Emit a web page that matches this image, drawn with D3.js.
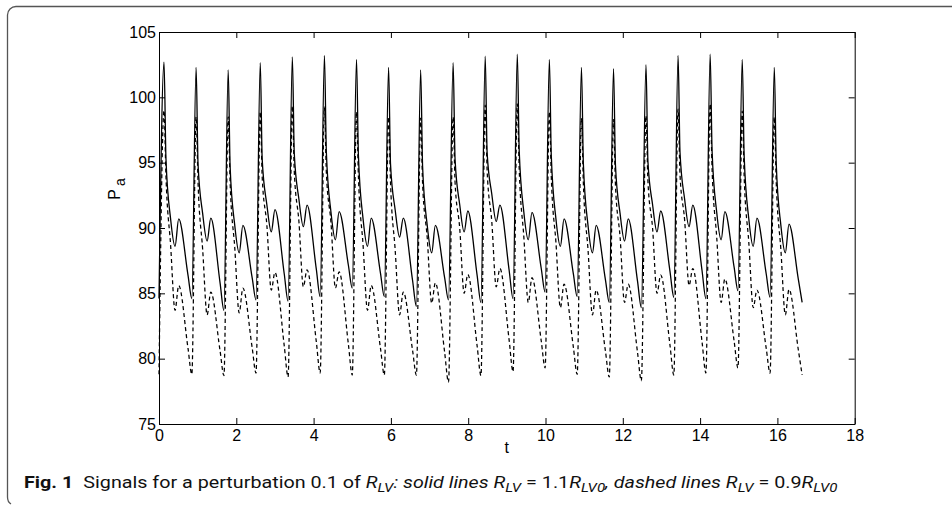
<!DOCTYPE html>
<html><head><meta charset="utf-8">
<script src="https://cdn.jsdelivr.net/npm/d3@7/dist/d3.min.js"></script>
<style>
body{margin:0;background:#fff;}
svg{display:block;}
</style>
</head><body>
<svg id="chart" width="952" height="508"></svg>
<script>
// ---------- data ----------
const xTicks = [0, 2, 4, 6, 8, 10, 12, 14, 16, 18];
const yTicks = [75, 80, 85, 90, 95, 100, 105];

// time (s) of each systolic peak
const peakT = [0.13, 0.96, 1.79, 2.62, 3.45, 4.28, 5.11, 5.94, 6.77, 7.61,
               8.44, 9.27, 10.10, 10.93, 11.76, 12.60, 13.43, 14.26, 15.09, 15.92];
// time offsets (s) after each peak of: peak, early drop, late drop, notch, bump, decline, trough
const phaseOffsets = [0, 0.05, 0.17, 0.285, 0.38, 0.62, 0.72];

// solid line: R_LV = 1.1 R_LV0
const solidStart   = 84.6;
const solidPeak    = [102.7, 102.3, 102.1, 102.65, 103.1, 103.2, 102.9, 102.3, 102.1, 102.65, 103.15, 103.3, 102.9, 102.3, 102.2, 102.5, 103.2, 103.3, 102.9, 102.3];
const solidDrop    = [95.3, 94.9, 94.7, 95.25, 95.7, 95.8, 95.5, 94.9, 94.7, 95.25, 95.75, 95.9, 95.5, 94.9, 94.8, 95.1, 95.8, 95.9, 95.5, 94.9];
const solidFall    = [90.7, 91.1, 90.2, 91.8, 92.2, 91.2, 90.7, 91.4, 90.2, 91.8, 92.6, 91.2, 90.7, 90.2, 91.1, 91.8, 92.2, 91.2, 90.7, 90.2];
const solidNotch   = [88.6, 89.0, 88.1, 89.7, 90.1, 89.1, 88.6, 89.3, 88.1, 89.7, 90.5, 89.1, 88.6, 88.1, 89.0, 89.7, 90.1, 89.1, 88.6, 88.1];
const solidBump    = [90.7, 90.75, 90.2, 91.4, 91.75, 91.25, 90.75, 90.75, 90.2, 91.3, 91.75, 91.2, 90.7, 90.2, 90.7, 91.3, 91.75, 91.25, 90.75, 90.3];
const solidDecline = [86.4, 85.8, 86.2, 86.5, 86.85, 87.15, 86.55, 86.0, 86.2, 86.4, 86.75, 86.9, 86.5, 86.05, 85.95, 86.7, 86.75, 87.0, 86.5, 86.1];
const solidTrough  = [84.6, 83.7, 84.5, 84.4, 84.75, 85.4, 84.75, 84.0, 84.5, 84.3, 84.6, 85.1, 84.75, 84.3, 83.9, 84.7, 84.6, 85.2, 84.7, 84.3];

// dashed line: R_LV = 0.9 R_LV0
const dashedStart   = 78.8;
const dashedPeak    = [99.0, 98.5, 98.5, 98.9, 99.35, 99.25, 98.9, 98.5, 98.4, 98.5, 99.4, 99.5, 98.9, 98.4, 98.3, 98.6, 99.1, 99.5, 98.95, 98.5];
const dashedDrop    = [94.0, 93.5, 93.5, 93.9, 94.35, 94.25, 93.9, 93.5, 93.4, 93.5, 94.4, 94.5, 93.9, 93.4, 93.3, 93.6, 94.1, 94.5, 93.95, 93.5];
const dashedFall    = [88.7, 88.35, 88.5, 90.25, 90.5, 90.4, 88.7, 88.35, 89.25, 90.0, 90.5, 89.3, 88.9, 88.35, 89.3, 90.0, 90.6, 89.3, 88.9, 88.35];
const dashedNotch   = [83.7, 83.35, 83.5, 85.25, 85.5, 85.4, 83.7, 83.35, 84.25, 85.0, 85.5, 84.3, 83.9, 83.35, 84.3, 85.0, 85.6, 84.3, 83.9, 83.35];
const dashedBump    = [85.6, 85.1, 85.4, 86.6, 86.8, 86.65, 85.6, 85.1, 85.8, 86.45, 86.9, 86.2, 85.7, 85.25, 85.7, 86.4, 86.9, 86.1, 85.25, 85.3];
const dashedDecline = [80.8, 80.6, 80.85, 81.0, 81.3, 81.1, 80.8, 80.65, 80.5, 81.0, 81.4, 81.35, 80.9, 80.6, 80.5, 81.05, 81.3, 81.35, 80.8, 80.7];
const dashedTrough  = [78.8, 78.7, 78.9, 78.6, 78.9, 78.75, 78.75, 78.75, 78.2, 78.7, 79.0, 79.3, 78.8, 78.6, 78.3, 78.75, 78.9, 79.3, 78.9, 78.75];

// ---------- build point tables ----------
function buildSeries(start, cols) {
  const pts = [[0, start]];
  peakT.forEach((tp, i) => {
    cols.forEach((col, j) => pts.push([tp + phaseOffsets[j], col[i]]));
  });
  return pts;
}
const solidPts = buildSeries(solidStart, [solidPeak, solidDrop, solidFall, solidNotch, solidBump, solidDecline, solidTrough]);
const dashedPts = buildSeries(dashedStart, [dashedPeak, dashedDrop, dashedFall, dashedNotch, dashedBump, dashedDecline, dashedTrough]);

// ---------- drawing ----------
const svg = d3.select("#chart");
const L = 159, R = 854.7, T = 32, B = 424;
const x = d3.scaleLinear().domain([0, 18]).range([L, R]);
const y = d3.scaleLinear().domain([75, 105]).range([B, T]);
const tickFont = "'Liberation Sans', Arial, Helvetica, sans-serif";

// frame around figure
svg.append("path")
  .attr("d", "M952,6.5 H16 A8.5,8.5 0 0 0 7.5,15 V497 Q7.5,502 11,504")
  .attr("fill", "none").attr("stroke", "#555").attr("stroke-width", 1.3);

const line = d3.line().x(d => x(d[0])).y(d => y(d[1])).curve(d3.curveMonotoneX);

svg.append("path").datum(dashedPts)
  .attr("d", line).attr("fill", "none").attr("stroke", "#000")
  .attr("stroke-width", 1.25).attr("stroke-dasharray", "4,3");
svg.append("path").datum(solidPts)
  .attr("d", line).attr("fill", "none").attr("stroke", "#000")
  .attr("stroke-width", 1.3);

// axes (MATLAB style box with inward ticks)
const gB = svg.append("g").attr("transform", `translate(0,${B})`)
  .call(d3.axisBottom(x).tickValues(xTicks).tickFormat(d3.format("d")).tickSizeInner(-6).tickSizeOuter(0).tickPadding(6));
const gT = svg.append("g").attr("transform", `translate(0,${T})`)
  .call(d3.axisTop(x).tickValues(xTicks).tickFormat("").tickSizeInner(-6).tickSizeOuter(0));
const gL = svg.append("g").attr("transform", `translate(${L},0)`)
  .call(d3.axisLeft(y).tickValues(yTicks).tickFormat(d3.format("d")).tickSizeInner(-6).tickSizeOuter(0).tickPadding(3));
const gR = svg.append("g").attr("transform", `translate(${R},0)`)
  .call(d3.axisRight(y).tickValues(yTicks).tickFormat("").tickSizeInner(-6).tickSizeOuter(0));

[gB, gT, gL, gR].forEach(g => {
  g.select(".domain").attr("stroke", "#000").attr("stroke-width", 1);
  g.selectAll(".tick line").attr("stroke", "#000").attr("stroke-width", 1);
  g.selectAll("text").attr("font-family", tickFont).attr("font-size", 16).attr("fill", "#000");
});

// axis labels
svg.append("text").attr("x", x(9)).attr("y", 453).attr("text-anchor", "middle")
  .attr("font-family", tickFont).attr("font-size", 16).text("t");
const yl = svg.append("text").attr("transform", "translate(120,189) rotate(-90)")
  .attr("text-anchor", "middle").attr("font-family", tickFont).attr("font-size", 16);
yl.append("tspan").text("P");
yl.append("tspan").attr("dx", 3).attr("dy", 5).attr("font-size", 14).text("a");

// caption
const capFont = "'Roboto', 'Liberation Sans', sans-serif";
const cap = svg.append("text").attr("x", 24).attr("y", 488)
  .attr("font-family", capFont).attr("font-size", 17).attr("fill", "#111");
const parts = [
  {t: "Fig. 1", w: "bold"},
  {t: "\u2002Signals for a perturbation 0.1 of "},
  {t: "R", i: 1}, {t: "LV", i: 1, sub: 1}, {t: ": solid lines ", i: 1, up: 1},
  {t: "R", i: 1}, {t: "LV", i: 1, sub: 1}, {t: " = 1.1", up: 1},
  {t: "R", i: 1}, {t: "LV0", i: 1, sub: 1}, {t: ", dashed lines ", i: 1, up: 1},
  {t: "R", i: 1}, {t: "LV", i: 1, sub: 1}, {t: " = 0.9", up: 1},
  {t: "R", i: 1}, {t: "LV0", i: 1, sub: 1}
];
parts.forEach(p => {
  const ts = cap.append("tspan").text(p.t);
  if (p.w) ts.attr("font-weight", p.w);
  if (p.i) ts.attr("font-style", "italic");
  if (p.sub) ts.attr("dy", 4).attr("font-size", 13);
  if (p.up) ts.attr("dy", -4);
});
// fit caption to reference width
const capW = cap.node().getComputedTextLength();
const target = 814;
cap.attr("transform", `translate(24,0) scale(${target / capW},1) translate(-24,0)`);
</script>
</body></html>
